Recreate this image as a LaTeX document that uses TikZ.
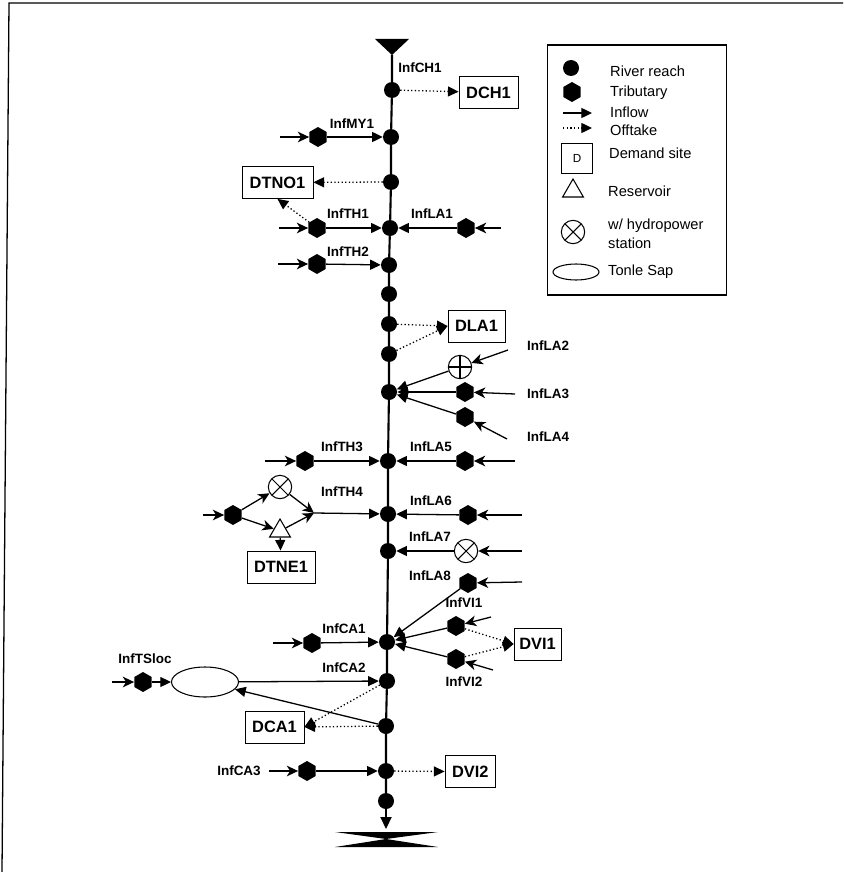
\documentclass[tikz,border=0pt]{standalone}
\usepackage{fontspec}
\setmainfont{Liberation Sans}
\usetikzlibrary{arrows.meta,shapes.geometric}
\tikzset{
  reach/.style={circle,fill=black,inner sep=0pt,minimum size=0.48cm},
  trib/.style={regular polygon,regular polygon sides=6,shape border rotate=30,fill=black,inner sep=0pt,minimum size=0.6cm},
  demand/.style={draw,line width=0.7pt,fill=white,inner sep=0pt,minimum height=0.96cm,font=\bfseries\fontsize{14}{15}\selectfont},
  hydrox/.style={circle,draw,line width=0.9pt,fill=white,inner sep=0pt,minimum size=0.7cm,
    path picture={\draw[line width=0.9pt] (path picture bounding box.north west) -- (path picture bounding box.south east)
      (path picture bounding box.north east) -- (path picture bounding box.south west);}},
  hydroplus/.style={circle,draw,line width=0.9pt,fill=white,inner sep=0pt,minimum size=0.7cm,
    path picture={\draw[line width=0.9pt] (path picture bounding box.north) -- (path picture bounding box.south)
      (path picture bounding box.east) -- (path picture bounding box.west);}},
  res/.style={regular polygon,regular polygon sides=3,draw,line width=0.9pt,fill=white,inner sep=0pt,minimum size=0.72cm},
  lake/.style={ellipse,draw,line width=0.9pt,fill=white,inner sep=0pt},
  lbl/.style={inner sep=0pt,font=\bfseries\fontsize{11.5}{12}\selectfont},
  leg/.style={inner sep=0pt,anchor=west,font=\fontsize{12.5}{13}\selectfont},
  inflow/.style={line width=1.1pt,-{Triangle[length=0.32cm,width=0.3cm]}},
  feed/.style={line width=1.1pt,-{Stealth[length=0.34cm,width=0.32cm,inset=0.1cm]}},
  offtake/.style={line width=1.1pt,dotted,-{Triangle[length=0.32cm,width=0.3cm,sep=0pt]}},
  river/.style={line width=1.8pt}
}
\begin{document}
\begin{tikzpicture}[x=0.03cm,y=-0.03cm]
\useasboundingbox (0,0) rectangle (843,872);
% frame
\coordinate (f1) at (843,3);
\coordinate (f2) at (9,3);
\coordinate (f3) at (2,872);
\draw[line width=1.1pt] (f1) -- (f2) -- (f3);
% main river
\node[reach] (r1) at (392,90) {};
\node[reach] (r2) at (391,137) {};
\node[reach] (r3) at (391,182) {};
\node[reach] (r4) at (390,228) {};
\node[reach] (r5) at (389,265) {};
\node[reach] (r6) at (389,294) {};
\node[reach] (r7) at (389,324) {};
\node[reach] (r8) at (389,354) {};
\node[reach] (r9) at (389,392) {};
\node[reach] (r10) at (388,461) {};
\node[reach] (r11) at (388,514) {};
\node[reach] (r12) at (388,551) {};
\node[reach] (r13) at (387,642) {};
\node[reach] (r14) at (387,681) {};
\node[reach] (r15) at (386,726) {};
\node[reach] (r16) at (386,771) {};
\node[reach] (r17) at (386,801) {};
\coordinate (top) at (392,55);
\coordinate (bot) at (386,829);
\coordinate (t1) at (375,39);
\coordinate (t2) at (409,39);
\coordinate (b1) at (335,832);
\coordinate (b2) at (438,832);
\coordinate (b3) at (438,847);
\coordinate (b4) at (335,847);
\coordinate (bc) at (386,839);
\fill (t1) -- (t2) -- (top) -- cycle;
\fill (b1) -- (b2) -- (bc) -- (b3) -- (b4) -- (bc) -- cycle;
\draw[river] (top) -- (r1) -- (r2) -- (r3) -- (r4) -- (r5) -- (r6) -- (r7) -- (r8) -- (r9) -- (r10) -- (r11) -- (r12) -- (r13) -- (r14) -- (r15) -- (r16) -- (r17);
\draw[river,-{Triangle[length=0.36cm,width=0.33cm]}] (r17) -- (bot);
% demand sites
\node[demand,minimum width=1.77cm] (dch1) at (488.5,92.5) {DCH1};
\node[demand,minimum width=2.13cm] (dtno1) at (277.5,182.5) {DTNO1};
\node[demand,minimum width=1.71cm] (dla1) at (476.5,326) {DLA1};
\node[demand,minimum width=2.04cm] (dtne1) at (281,567) {DTNE1};
\node[demand,minimum width=1.41cm] (dvi1) at (537.5,644) {DVI1};
\node[demand,minimum width=1.77cm] (dca1) at (274.5,727) {DCA1};
\node[demand,minimum width=1.52cm] (dvi2) at (470.3,771.7) {DVI2};
% tributaries
\node[trib] (my1) at (318,137) {};
\node[trib] (th1) at (317,228) {};
\node[trib] (la1) at (466,228) {};
\node[trib] (th2) at (317,264) {};
\node[hydroplus] (la2) at (460,367) {};
\node[trib] (la3) at (465,392) {};
\node[trib] (la4) at (465,417) {};
\node[trib] (th3) at (305,461) {};
\node[trib] (la5) at (465,461) {};
\node[trib] (th4) at (233,515) {};
\node[hydrox] (thh) at (280,487) {};
\node[res] (thr) at (280,531) {};
\node[trib] (la6) at (468,515) {};
\node[hydrox] (la7) at (466,551) {};
\node[trib] (la8) at (468,583) {};
\node[trib] (vi1) at (456,626) {};
\node[trib] (vi2) at (456,659) {};
\node[trib] (ca1) at (312,643) {};
\node[trib] (ts) at (143,682) {};
\node[lake,minimum width=2.01cm,minimum height=0.9cm] (sap) at (205,682) {};
\node[trib] (ca3) at (307,771) {};
% free ends
\coordinate (smy1) at (280,137);
\coordinate (sth1) at (279,228);
\coordinate (sla1) at (501,228);
\coordinate (sth2) at (278,264);
\coordinate (sla2) at (508,350);
\coordinate (sla3) at (515,394);
\coordinate (sla4) at (507,439);
\coordinate (sth3) at (265,461);
\coordinate (sla5) at (515,461);
\coordinate (sth4) at (203,515);
\coordinate (jth4) at (314,513);
\coordinate (sla6) at (522,515);
\coordinate (sla7) at (522,551);
\coordinate (sla8) at (522,582);
\coordinate (svi1) at (491,617);
\coordinate (svi2) at (493,670);
\coordinate (sca1) at (273,643);
\coordinate (sts) at (112,682);
\coordinate (sca3) at (269,771);
% inflows
\draw[feed] (smy1) -- (my1);
\draw[inflow] (my1) -- (r2);
\draw[feed] (sth1) -- (th1);
\draw[inflow] (th1) -- (r4);
\draw[feed] (sla1) -- (la1);
\draw[inflow] (la1) -- (r4);
\draw[feed] (sth2) -- (th2);
\draw[inflow] (th2) -- (r5);
\draw[feed] (sla2) -- (la2);
\draw[inflow] (la2) -- (r9);
\draw[feed] (sla3) -- (la3);
\draw[inflow] (la3) -- (r9);
\draw[feed] (sla4) -- (la4);
\draw[inflow] (la4) -- (r9);
\draw[feed] (sth3) -- (th3);
\draw[inflow] (th3) -- (r10);
\draw[feed] (sla5) -- (la5);
\draw[inflow] (la5) -- (r10);
\draw[feed] (sth4) -- (th4);
\draw[feed] (th4) -- (thh);
\draw[feed] (th4) -- (thr);
\draw[feed] (thh) -- (jth4);
\draw[feed] (thr) -- (jth4);
\draw[inflow] (jth4) -- (r11);
\draw[feed] (sla6) -- (la6);
\draw[inflow] (la6) -- (r11);
\draw[feed] (sla7) -- (la7);
\draw[inflow] (la7) -- (r12);
\draw[feed] (sla8) -- (la8);
\draw[inflow] (la8) -- (r13);
\draw[feed] (svi1) -- (vi1);
\draw[inflow] (vi1) -- (r13);
\draw[feed] (svi2) -- (vi2);
\draw[inflow] (vi2) -- (r13);
\draw[feed] (sca1) -- (ca1);
\draw[inflow] (ca1) -- (r13);
\draw[feed] (sts) -- (ts);
\draw[inflow] (ts) -- (sap);
\draw[inflow] (sap) -- (r14);
\draw[inflow] (r15) -- (sap);
\draw[feed] (sca3) -- (ca3);
\draw[inflow] (ca3) -- (r16);
\draw[inflow] (thr) -- (dtne1);
% offtakes
\draw[offtake] (r1) -- (dch1);
\draw[offtake] (r3) -- (dtno1);
\draw[offtake] (th1) -- (dtno1.south);
\draw[offtake] (r7) -- (dla1.west);
\draw[offtake] (r8) -- (dla1.west);
\draw[offtake] (vi1) -- (dvi1.west);
\draw[offtake] (vi2) -- (dvi1.west);
\draw[offtake] (r14) -- (dca1.east);
\draw[offtake] (r15) -- (dca1.east);
\draw[offtake] (r16) -- (dvi2);
% labels
\node[lbl] (lch1) at (420,68) {InfCH1};
\node[lbl] (lmy1) at (352,124) {InfMY1};
\node[lbl] (lth1) at (348,214) {InfTH1};
\node[lbl] (lla1) at (432,214) {InfLA1};
\node[lbl] (lth2) at (348,252) {InfTH2};
\node[lbl,anchor=west] (lla2) at (527,346) {InfLA2};
\node[lbl,anchor=west] (lla3) at (527,394) {InfLA3};
\node[lbl,anchor=west] (lla4) at (527,437) {InfLA4};
\node[lbl] (lth3) at (342,447) {InfTH3};
\node[lbl] (lla5) at (431,447) {InfLA5};
\node[lbl] (lth4) at (342,492) {InfTH4};
\node[lbl] (lla6) at (431,501) {InfLA6};
\node[lbl] (lla7) at (430,537) {InfLA7};
\node[lbl] (lla8) at (430,576) {InfLA8};
\node[lbl] (lvi1) at (464,603) {InfVI1};
\node[lbl] (lvi2) at (464,682) {InfVI2};
\node[lbl] (lca1) at (344,629) {InfCA1};
\node[lbl] (lca2) at (344,668) {InfCA2};
\node[lbl] (lts) at (145,659) {InfTSloc};
\node[lbl] (lca3) at (239,771) {InfCA3};
% legend
\node[draw,line width=1.1pt,minimum width=5.37cm,minimum height=7.5cm,inner sep=0pt] (legbox) at (637,170) {};
\node[reach] (k1) at (571,68) {};
\node[trib] (k2) at (572,92) {};
\coordinate (k3a) at (563,113);
\coordinate (k3b) at (592,113);
\coordinate (k4a) at (563,128);
\coordinate (k4b) at (592,128);
\draw[inflow] (k3a) -- (k3b);
\draw[offtake] (k4a) -- (k4b);
\node[draw,line width=0.8pt,minimum width=0.93cm,minimum height=0.9cm,inner sep=0pt,font=\fontsize{10}{11}\selectfont] (k5) at (577,158) {D};
\node[res] (k6) at (573,191) {};
\node[hydrox] (k7) at (573,232) {};
\node[lake,minimum width=1.38cm,minimum height=0.48cm] (k8) at (576,272) {};
\node[leg] (t1l) at (610,71) {River reach};
\node[leg] (t2l) at (610,93) {Tributary};
\node[leg] (t3l) at (610,112) {Inflow};
\node[leg] (t4l) at (610,130) {Offtake};
\node[leg] (t5l) at (609,153) {Demand site};
\node[leg] (t6l) at (608,191) {Reservoir};
\node[leg] (t7l) at (608,226) {w/ hydropower};
\node[leg] (t8l) at (608,243) {station};
\node[leg] (t9l) at (608,272) {Tonle Sap};
\end{tikzpicture}
\end{document}
